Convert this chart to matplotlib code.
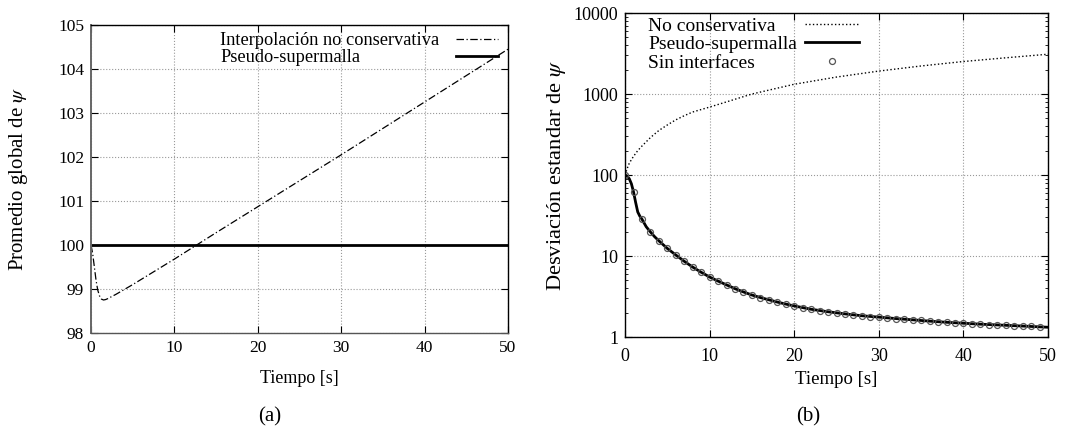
import numpy as np
import matplotlib
matplotlib.use("Agg")
import matplotlib.pyplot as plt

plt.rcParams["font.family"] = ["Liberation Serif", "DejaVu Serif"]
plt.rcParams["mathtext.fontset"] = "stix"
plt.rcParams["font.size"] = 12.5

# ---- (a) promedio global ----
t_a = [0, 0.2, 0.4, 0.6, 0.8, 1.0, 1.25, 1.5, 1.75, 2, 2.5, 3, 4, 5, 7.5, 10, 12.5, 15,
       20, 25, 30, 35, 40, 45, 50]
nocons_a = [100.0, 99.8, 99.5, 99.2, 98.98, 98.85, 98.77, 98.75, 98.76, 98.78, 98.83, 98.88,
            98.99, 99.1, 99.39, 99.68, 99.98, 100.28, 100.87, 101.46, 102.05, 102.65,
            103.25, 103.85, 104.45]
pseudo_a = [100.0] * len(t_a)

# ---- (b) desviacion estandar ----
t_nc = [0, 0.25, 0.5, 1, 1.5, 2, 3, 4, 5, 6, 7, 8, 10, 12, 15, 20, 25, 30, 35, 40, 45, 50]
nocons_b = [100, 120, 140, 170, 200, 228, 290, 355, 415, 480, 540, 600, 690, 800, 1000,
            1320, 1620, 1920, 2220, 2520, 2800, 3100]

t_ps = [0, 0.25, 0.5, 0.75, 1.0, 1.25, 1.5, 1.75, 2, 2.5, 3, 3.5, 4, 5, 6, 7, 8, 9, 10,
        11, 12, 13, 14, 15, 16, 17, 18, 19, 20, 22, 24, 26, 28, 30, 32, 34, 36, 38, 40,
        42, 44, 46, 48, 50]
pseudo_b = [100, 97, 90, 78, 62, 46, 35, 31, 28.5, 23, 19.8, 17.3, 15.4, 12.4, 10.3, 8.6,
            7.3, 6.3, 5.5, 4.9, 4.4, 3.95, 3.6, 3.3, 3.07, 2.88, 2.7, 2.55, 2.42, 2.2,
            2.05, 1.93, 1.83, 1.76, 1.69, 1.63, 1.57, 1.52, 1.48, 1.44, 1.41, 1.38, 1.35,
            1.32]

t_si = list(range(0, 50))
sinint_b = [100, 61, 29, 19.9, 15.4, 12.4, 10.3, 8.6, 7.3, 6.3, 5.47, 4.88, 4.4, 3.97,
            3.62, 3.32, 3.07, 2.87, 2.7, 2.55, 2.42, 2.3, 2.2, 2.12, 2.04, 1.98, 1.92,
            1.87, 1.82, 1.78, 1.75, 1.71, 1.68, 1.65, 1.62, 1.6, 1.57, 1.55, 1.52, 1.5,
            1.48, 1.46, 1.44, 1.42, 1.41, 1.39, 1.37, 1.36, 1.35, 1.33]

fig = plt.figure(figsize=(10.76, 4.37), dpi=100)
axa = fig.add_axes([0.0846, 0.238, 0.3875, 0.7048])
axb = fig.add_axes([0.5809, 0.2288, 0.3931, 0.7414])

for ax in (axa, axb):
    ax.tick_params(direction="in", top=True, right=True, length=5, width=0.8, pad=5)
    ax.tick_params(which="minor", direction="in", top=True, right=True, length=2.5)
    ax.grid(True, color="#999999", ls=":", lw=0.8)
    for s in ax.spines.values():
        s.set_linewidth(1.0)
axa.spines["left"].set_color("#666666")
axa.spines["left"].set_linewidth(1.4)
axa.spines["bottom"].set_color("#555555")


def left_align(leg):
    # gnuplot-like key: text left aligned, samples in one column on the right
    fig.canvas.draw()
    r = fig.canvas.get_renderer()
    widths = [t.get_window_extent(r).width for t in leg.get_texts()]
    wmax = max(widths)
    col = leg._legend_handle_box.get_children()[0]
    for box, w in zip(col.get_children(), widths):
        box.sep += (wmax - w) * 72 / fig.dpi


axa.plot(t_a, nocons_a, color="black", lw=0.9, dashes=(6, 2, 1, 2),
         label="Interpolación no conservativa")
axa.plot(t_a, pseudo_a, color="black", ls="-", lw=2, label="Pseudo-supermalla")
axa.set_xlim(0, 50)
axa.set_ylim(98, 105)
axa.set_xticks(range(0, 51, 10))
axa.set_yticks(range(98, 106))
axa.set_xlabel("Tiempo [s]", va="center", fontsize=13)
axa.xaxis.set_label_coords(0.5, -0.149)
axa.set_ylabel(r"Promedio global de $\psi$", va="center", fontsize=15)
axa.yaxis.set_label_coords(-0.173, 0.5)
lega = axa.legend(loc="upper right", frameon=False, markerfirst=False, handlelength=2.3,
                  bbox_to_anchor=(0.994, 1.0), borderaxespad=0, labelspacing=0.0,
                  handletextpad=0.9, fontsize=13.2)

axb.plot(t_nc, nocons_b, color="black", ls=":", lw=1.0, label="No conservativa")
axb.plot(t_ps, pseudo_b, color="black", ls="-", lw=2, label="Pseudo-supermalla")
axb.plot(t_si, sinint_b, ls="none", marker="o", ms=4.3, mfc="none", mec="#555555",
         mew=0.9, label="Sin interfaces")
axb.set_yscale("log")
axb.set_xlim(0, 50)
axb.set_ylim(1, 10000)
axb.set_xticks(range(0, 51, 10))
axb.set_yticks([1, 10, 100, 1000, 10000])
axb.set_yticklabels(["1", "10", "100", "1000", "10000"])
axb.tick_params(labelsize=13)
axb.tick_params(axis="x", pad=8)
axb.grid(False, which="minor")
axb.set_xlabel("Tiempo [s]", va="center", fontsize=13.5)
axb.xaxis.set_label_coords(0.5, -0.13)
axb.set_ylabel(r"Desviación estandar de $\psi$", va="center", fontsize=16.2)
axb.yaxis.set_label_coords(-0.161, 0.5)
legb = axb.legend(loc="upper left", frameon=False, markerfirst=False, handlelength=2.8,
                  bbox_to_anchor=(0.037, 1.012), borderaxespad=0, labelspacing=0.05,
                  handletextpad=0.37, fontsize=14)

left_align(lega)
left_align(legb)

fig.text(0.251, 1 - 417 / 437, "(a)", ha="center", va="center", fontsize=15)
fig.text(0.751, 1 - 417 / 437, "(b)", ha="center", va="center", fontsize=15)

fig.savefig("out.png", dpi=100)
